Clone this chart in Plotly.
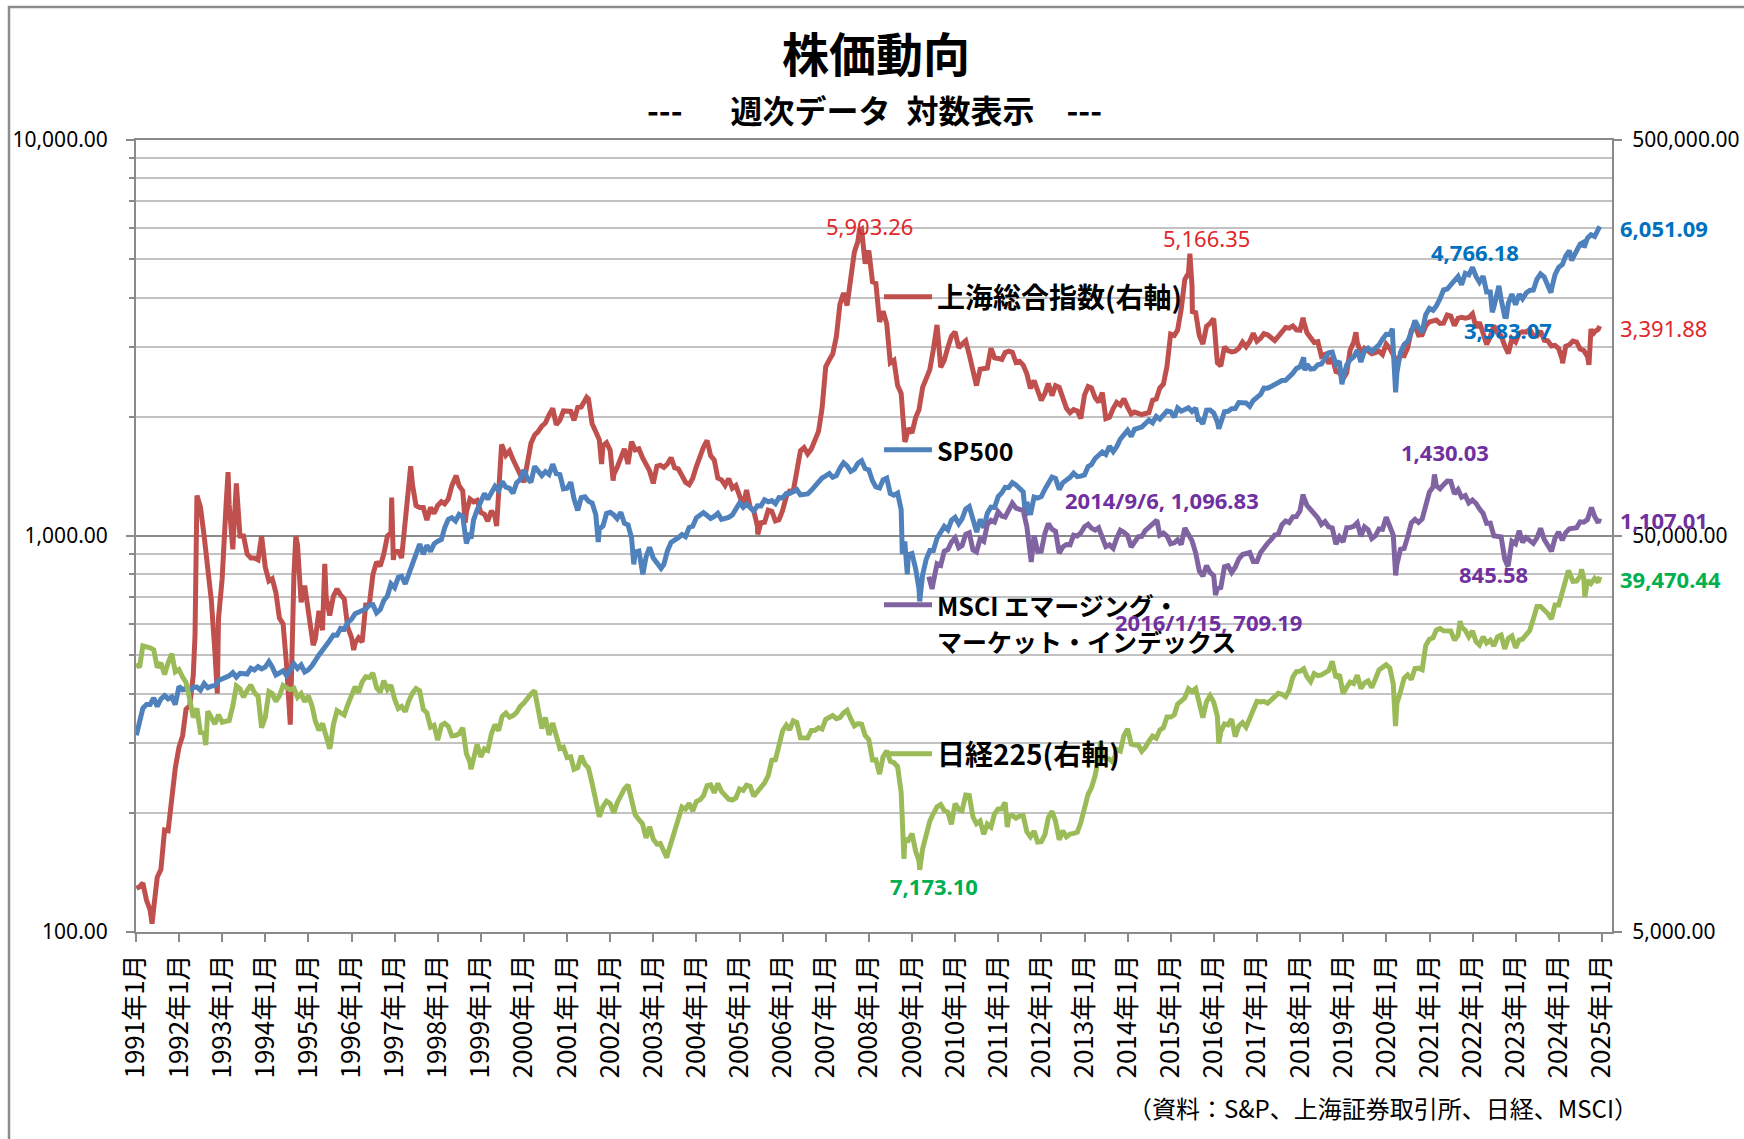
import numpy as np
import pandas as pd
import plotly.graph_objects as go

# ---------------- data ----------------
# Month-end values, first month given by *_START
SP500_START = "1991-01-01"
SP500_MONTHLY = [
    343.9, 367.1, 375.2, 375.3, 389.8, 371.2, 387.8, 395.4, 387.9, 392.5, 375.2, 417.1,
    408.8, 412.7, 403.7, 414.9, 415.4, 408.1, 424.2, 414.0, 417.8, 418.7, 431.4, 435.7,
    438.8, 443.4, 451.7, 440.2, 450.2, 450.5, 448.1, 463.6, 458.9, 467.8, 461.8, 466.5,
    481.6, 467.1, 445.8, 450.9, 456.5, 444.3, 458.3, 475.5, 462.7, 472.4, 453.7, 459.3,
    470.4, 487.4, 500.7, 514.7, 533.4, 544.8, 562.1, 561.9, 584.4, 581.5, 605.4, 615.9,
    636.0, 640.4, 645.5, 654.2, 669.1, 670.6, 639.9, 652.0, 687.3, 705.3, 757.0, 740.7,
    786.2, 790.8, 757.1, 801.3, 848.3, 885.1, 954.3, 899.5, 947.3, 914.6, 955.4, 970.4,
    980.3, 1049.3, 1101.8, 1111.8, 1090.8, 1133.8, 1120.7, 957.3, 1017.0, 1098.7, 1163.6, 1229.2,
    1279.6, 1238.3, 1286.4, 1335.2, 1301.8, 1372.7, 1328.7, 1320.4, 1282.7, 1362.9, 1388.9, 1469.3,
    1394.5, 1366.4, 1498.6, 1452.4, 1420.6, 1454.6, 1430.8, 1517.7, 1436.5, 1429.4, 1315.2, 1320.3,
    1366.0, 1239.9, 1160.3, 1249.5, 1255.8, 1224.4, 1211.2, 1133.6, 1040.9, 1059.8, 1139.5, 1148.1,
    1130.2, 1106.7, 1147.4, 1076.9, 1067.1, 989.8, 911.6, 916.1, 815.3, 885.8, 936.3, 879.8,
    855.7, 841.2, 848.2, 916.9, 963.6, 974.5, 990.3, 1008.0, 996.0, 1050.7, 1058.2, 1111.9,
    1131.1, 1144.9, 1126.2, 1107.3, 1120.7, 1140.8, 1101.7, 1104.2, 1114.6, 1130.2, 1173.8, 1211.9,
    1181.3, 1203.6, 1180.6, 1156.9, 1191.5, 1191.3, 1234.2, 1220.3, 1228.8, 1207.0, 1249.5, 1248.3,
    1280.1, 1280.7, 1294.8, 1310.6, 1270.1, 1270.2, 1276.7, 1303.8, 1335.9, 1377.9, 1400.6, 1418.3,
    1438.2, 1406.8, 1420.9, 1482.4, 1530.6, 1503.4, 1455.3, 1474.0, 1526.8, 1549.4, 1481.1, 1468.4,
    1378.6, 1330.6, 1322.7, 1385.6, 1400.4, 1280.0, 1267.4, 1282.8, 1166.4, 968.8, 896.2, 903.3,
    825.9, 735.1, 797.9, 872.8, 919.1, 919.3, 987.5, 1020.6, 1057.1, 1036.2, 1095.6, 1115.1,
    1073.9, 1104.5, 1169.4, 1186.7, 1089.4, 1030.7, 1101.6, 1049.3, 1141.2, 1183.3, 1180.6, 1257.6,
    1286.1, 1327.2, 1325.8, 1363.6, 1345.2, 1320.6, 1292.3, 1218.9, 1131.4, 1253.3, 1247.0, 1257.6,
    1312.4, 1365.7, 1408.5, 1397.9, 1310.3, 1362.2, 1379.3, 1406.6, 1440.7, 1412.2, 1416.2, 1426.2,
    1498.1, 1514.7, 1569.2, 1597.6, 1630.7, 1606.3, 1685.7, 1633.0, 1681.6, 1756.5, 1805.8, 1848.4,
    1782.6, 1859.5, 1872.3, 1884.0, 1923.6, 1960.2, 1930.7, 2003.4, 1972.3, 2018.1, 2067.6, 2058.9,
    1995.0, 2104.5, 2067.9, 2085.5, 2107.4, 2063.1, 2103.8, 1972.2, 1920.0, 2079.4, 2080.4, 2043.9,
    1940.2, 1932.2, 2059.7, 2065.3, 2097.0, 2098.9, 2173.6, 2171.0, 2168.3, 2126.2, 2198.8, 2238.8,
    2278.9, 2363.6, 2362.7, 2384.2, 2411.8, 2423.4, 2470.3, 2471.7, 2519.4, 2575.3, 2647.6, 2673.6,
    2823.8, 2713.8, 2640.9, 2648.1, 2705.3, 2718.4, 2816.3, 2901.5, 2914.0, 2711.7, 2760.2, 2506.9,
    2704.1, 2784.5, 2834.4, 2945.8, 2752.1, 2941.8, 2980.4, 2926.5, 2976.7, 3037.6, 3141.0, 3230.8,
    3225.5, 2954.2, 2584.6, 2912.4, 3044.3, 3100.3, 3271.1, 3500.3, 3363.0, 3270.0, 3621.6, 3756.1,
    3714.2, 3811.2, 3972.9, 4181.2, 4204.1, 4297.5, 4395.3, 4522.7, 4307.5, 4605.4, 4567.0, 4766.18,
    4515.6, 4373.9, 4530.4, 4131.9, 4132.2, 3785.4, 4130.3, 3955.0, 3585.6, 3872.0, 4080.1, 3839.5,
    4076.6, 3970.2, 4109.3, 4169.5, 4179.8, 4450.4, 4589.0, 4507.7, 4288.1, 4193.8, 4567.8, 4769.8,
    4845.7, 5096.3, 5254.4, 5035.7, 5277.5, 5460.5, 5522.3, 5648.4, 5762.5, 5705.5, 6032.4,
]
SP500_EXTRA_DATES = [
    "1991-01-04", "1998-10-09", "2001-09-21", "2002-07-19", "2002-10-04", "2003-03-07",
    "2008-10-10", "2008-11-21", "2009-03-06", "2010-07-02", "2011-08-19", "2011-10-07",
    "2015-08-21", "2016-02-12", "2018-02-09", "2018-12-21", "2020-02-21", "2020-03-20",
    "2022-06-17", "2022-08-12", "2022-10-14", "2023-10-27", "2024-04-19", "2024-08-02",
    "2024-12-13",
]
SP500_EXTRA_VALUES = [
    314.0, 984.0, 965.8, 847.8, 800.6, 828.9,
    899.2, 800.0, 683.4, 1022.6, 1123.5, 1155.5,
    1970.9, 1864.8, 2619.6, 2416.6, 3337.8, 2304.9,
    3674.8, 4280.2, 3583.07, 4117.4, 4967.2, 5346.6,
    6051.09,
]

NIKKEI_START = "1991-01-01"
NIKKEI_MONTHLY = [
    23293, 26409, 26292, 26111, 25790, 23291, 23900, 22336, 23916, 25222, 22687, 22984,
    22023, 21339, 19346, 17391, 18348, 15952, 15910, 18061, 17399, 16767, 17684, 16925,
    17024, 17098, 18591, 20919, 20552, 19590, 20380, 21027, 20106, 19703, 16408, 17417,
    20229, 19997, 19112, 19725, 20974, 20644, 20449, 20629, 19564, 19990, 19076, 19723,
    18650, 17054, 16140, 16807, 15437, 14517, 16678, 18117, 17913, 17655, 18744, 19868,
    20813, 20125, 21407, 22041, 21956, 22531, 20693, 20167, 21556, 20467, 21020, 19361,
    18330, 18557, 18003, 19151, 20069, 20605, 20331, 18229, 17888, 16459, 16633, 15259,
    16628, 16832, 16527, 15641, 15671, 15830, 16379, 14108, 13406, 13565, 14884, 13842,
    14499, 14368, 15837, 16702, 16112, 17530, 17862, 17437, 17605, 17942, 18558, 18934,
    19540, 19960, 20337, 17974, 16332, 17411, 15727, 16861, 15747, 14539, 14649, 13786,
    13844, 12883, 12999, 13934, 13262, 12969, 11860, 10713, 9775, 10366, 10697, 10543,
    9998, 10588, 11025, 11493, 11764, 10622, 9878, 9619, 9383, 8640, 9216, 8579,
    8340, 8363, 7973, 7831, 8425, 9083, 9563, 10344, 10219, 10560, 10101, 10677,
    10784, 11042, 11715, 11762, 11236, 11859, 11326, 11082, 10824, 10771, 10899, 11489,
    11388, 11741, 11669, 11009, 11277, 11584, 11900, 12414, 13574, 13607, 14872, 16111,
    16650, 16205, 17060, 16906, 15467, 15505, 15457, 16141, 16128, 16399, 16274, 17226,
    17383, 17604, 17288, 17400, 17876, 18138, 17249, 16569, 16786, 16738, 15681, 15308,
    13593, 13604, 12526, 13850, 14339, 13481, 13377, 13073, 11260, 8577, 8512, 8860,
    7994, 7568, 8110, 8828, 9523, 9958, 10357, 10493, 10133, 10035, 9346, 10546,
    10198, 10126, 11090, 11057, 9769, 9383, 9537, 8824, 9369, 9202, 9937, 10229,
    10238, 10624, 9755, 9850, 9694, 9816, 9833, 8955, 8700, 8988, 8434, 8455,
    8803, 9723, 10084, 9521, 8543, 9007, 8695, 8840, 8870, 8928, 9446, 10395,
    11139, 11559, 12398, 13861, 13775, 13677, 13668, 13389, 14456, 14328, 15662, 16291,
    14915, 14841, 14828, 14304, 14632, 15162, 15621, 15425, 16174, 16414, 17460, 17451,
    17674, 18798, 19207, 19520, 20563, 20236, 20585, 18890, 17388, 19083, 19747, 19034,
    17518, 16027, 16759, 16666, 17235, 15576, 16569, 16887, 16450, 17425, 18308, 19114,
    19041, 19119, 18909, 19197, 19651, 20033, 19925, 19646, 20356, 22012, 22724, 22765,
    23098, 22068, 21454, 22468, 22202, 22305, 22554, 22865, 24120, 21920, 22351, 20015,
    20773, 21385, 21206, 22259, 20601, 21276, 21522, 20704, 21756, 22927, 23294, 23657,
    23205, 21143, 18917, 20194, 21878, 22288, 21710, 23140, 23185, 22977, 26434, 27444,
    27663, 28966, 29179, 28813, 28860, 28792, 27284, 28090, 29453, 28893, 27822, 28792,
    27002, 26527, 27821, 26848, 27280, 26393, 27802, 28092, 25937, 27587, 27969, 26095,
    27327, 27446, 28041, 28856, 30888, 33189, 33172, 32619, 31858, 30859, 33487, 33464,
    36287, 39166, 40369, 38406, 38488, 39583, 39102, 38648, 37920, 39081, 38208,
]
NIKKEI_EXTRA_DATES = [
    "1991-01-04", "1992-08-14", "1995-07-07", "1998-10-09", "2003-04-25", "2008-10-24",
    "2009-03-06", "2011-03-18", "2013-05-17", "2016-02-12", "2018-12-21", "2020-03-19",
    "2021-09-17", "2024-03-22", "2024-07-12", "2024-08-09", "2024-12-13",
]
NIKKEI_EXTRA_VALUES = [
    23827, 14822, 14800, 12880, 7700, 7649,
    7173.10, 9206, 15138, 14953, 20166, 16553,
    30500, 40888, 41190, 35025, 39470.44,
]

SHANGHAI_START = "1991-01-01"
SHANGHAI_MONTHLY = [
    130.0, 133.0, 120.2, 113.9, 114.8, 137.6, 143.8, 180.9, 180.2, 218.6, 259.6, 292.8,
    313.2, 365.4, 372.6, 444.2, 1266.0, 1183.0, 1001.0, 820.0, 689.0, 507.0, 620.0, 780.4,
    1170.0, 1200.0, 925.0, 1358.0, 1000.0, 1000.0, 900.0, 880.0, 880.0, 870.0, 1000.0, 834.0,
    770.0, 780.0, 720.0, 620.0, 600.0, 470.0, 334.0, 800.0, 950.0, 680.0, 750.0, 648.0,
    563.0, 549.0, 647.0, 578.0, 701.0, 630.0, 704.0, 735.0, 710.0, 694.0, 587.0, 555.0,
    537.0, 553.0, 540.0, 670.0, 672.0, 800.0, 860.0, 840.0, 900.0, 1000.0, 1020.0, 917.0,
    914.0, 880.0, 1100.0, 1292.0, 1350.0, 1193.0, 1180.0, 1180.0, 1097.0, 1180.0, 1140.0, 1194.0,
    1220.0, 1205.0, 1240.0, 1340.0, 1410.0, 1340.0, 1300.0, 1150.0, 1240.0, 1220.0, 1230.0, 1147.0,
    1134.0, 1090.0, 1158.0, 1120.0, 1280.0, 1689.0, 1600.0, 1640.0, 1560.0, 1490.0, 1430.0, 1367.0,
    1535.0, 1714.0, 1800.0, 1836.0, 1894.0, 1928.0, 2023.0, 2100.0, 1910.0, 1961.0, 2070.0, 2073.0,
    2065.0, 1960.0, 2112.0, 2119.0, 2214.0, 2218.0, 1920.0, 1834.0, 1750.0, 1690.0, 1720.0, 1646.0,
    1430.0, 1490.0, 1580.0, 1660.0, 1520.0, 1730.0, 1650.0, 1660.0, 1580.0, 1510.0, 1460.0, 1358.0,
    1500.0, 1510.0, 1490.0, 1520.0, 1577.0, 1487.0, 1477.0, 1421.0, 1367.0, 1348.0, 1397.0, 1497.0,
    1590.0, 1675.0, 1742.0, 1595.0, 1555.0, 1400.0, 1386.0, 1342.0, 1396.0, 1320.0, 1341.0, 1266.0,
    1191.0, 1306.0, 1181.0, 1159.0, 1060.0, 1080.0, 1083.0, 1162.0, 1155.0, 1092.0, 1099.0, 1161.0,
    1258.0, 1299.0, 1298.0, 1440.0, 1641.0, 1672.0, 1612.0, 1658.0, 1752.0, 1837.0, 2099.0, 2675.0,
    2786.0, 2881.0, 3184.0, 3841.0, 4110.0, 3821.0, 4471.0, 5219.0, 5552.0, 5955.0, 4871.0, 5262.0,
    4383.0, 4348.0, 3473.0, 3693.0, 3433.0, 2736.0, 2776.0, 2397.0, 2293.0, 1729.0, 1871.0, 1821.0,
    1991.0, 2082.0, 2373.0, 2477.0, 2632.0, 2959.0, 3412.0, 2667.0, 2779.0, 2996.0, 3195.0, 3277.0,
    2989.0, 3051.0, 3110.0, 2870.0, 2592.0, 2398.0, 2638.0, 2639.0, 2656.0, 2979.0, 2820.0, 2808.0,
    2791.0, 2905.0, 2928.0, 2911.0, 2743.0, 2762.0, 2701.0, 2568.0, 2359.0, 2468.0, 2333.0, 2199.0,
    2292.0, 2428.0, 2262.0, 2396.0, 2373.0, 2225.0, 2103.0, 2048.0, 2086.0, 2069.0, 1980.0, 2269.0,
    2385.0, 2366.0, 2237.0, 2178.0, 2301.0, 1979.0, 1994.0, 2098.0, 2175.0, 2142.0, 2220.0, 2116.0,
    2033.0, 2056.0, 2033.0, 2026.0, 2039.0, 2048.0, 2202.0, 2217.0, 2364.0, 2420.0, 2683.0, 3235.0,
    3210.0, 3310.0, 3748.0, 4442.0, 4612.0, 4277.0, 3664.0, 3206.0, 3053.0, 3383.0, 3445.0, 3539.0,
    2738.0, 2688.0, 3004.0, 2938.0, 2917.0, 2930.0, 2979.0, 3085.0, 3005.0, 3100.0, 3250.0, 3104.0,
    3159.0, 3242.0, 3223.0, 3155.0, 3117.0, 3192.0, 3273.0, 3361.0, 3349.0, 3393.0, 3317.0, 3307.0,
    3481.0, 3259.0, 3169.0, 3082.0, 3095.0, 2847.0, 2876.0, 2725.0, 2821.0, 2603.0, 2588.0, 2494.0,
    2585.0, 2941.0, 3091.0, 3078.0, 2899.0, 2979.0, 2932.0, 2886.0, 2905.0, 2929.0, 2872.0, 3050.0,
    2977.0, 2880.0, 2750.0, 2860.0, 2852.0, 2985.0, 3310.0, 3396.0, 3218.0, 3225.0, 3392.0, 3473.0,
    3483.0, 3509.0, 3442.0, 3447.0, 3615.0, 3591.0, 3397.0, 3544.0, 3568.0, 3547.0, 3564.0, 3640.0,
    3361.0, 3462.0, 3252.0, 3047.0, 3186.0, 3399.0, 3253.0, 3202.0, 3024.0, 2893.0, 3151.0, 3089.0,
    3255.0, 3280.0, 3273.0, 3323.0, 3205.0, 3202.0, 3291.0, 3120.0, 3110.0, 3019.0, 3030.0, 2975.0,
    2789.0, 3015.0, 3041.0, 3105.0, 3087.0, 2967.0, 2939.0, 2842.0, 3336.0, 3279.0, 3326.0,
]
SHANGHAI_EXTRA_DATES = [
    "1991-01-04", "1991-05-17", "1992-05-15", "1992-11-20", "1993-02-19", "1994-09-16",
    "1995-02-10", "1995-05-19", "1996-01-19", "1996-12-06", "1996-12-20", "1997-05-16",
    "1998-06-05", "1998-08-21", "1999-05-14", "1999-06-25", "2001-06-15", "2001-10-19",
    "2002-01-25", "2005-06-03", "2007-10-12", "2008-11-07", "2015-06-12", "2015-07-03",
    "2018-01-26", "2019-04-19", "2024-02-02", "2024-09-13", "2024-10-11", "2024-12-13",
]
SHANGHAI_EXTRA_VALUES = [
    129.0, 105.0, 560.0, 400.0, 1450.0, 1000.0,
    530.0, 850.0, 515.0, 1250.0, 870.0, 1500.0,
    1420.0, 1080.0, 1060.0, 1700.0, 2240.0, 1520.0,
    1380.0, 1010.0, 5903.26, 1748.0, 5166.35, 3687.0,
    3558.0, 3271.0, 2730.0, 2704.0, 3217.0, 3391.88,
]

MSCI_START = "2009-05-01"
MSCI_MONTHLY = [
    776, 766, 851, 843, 915, 924, 965, 989,
    934, 946, 1010, 1019, 922, 911, 983, 969, 1069, 1095, 1084, 1151,
    1123, 1117, 1171, 1210, 1176, 1165, 1159, 1056, 880, 1003, 915, 916,
    1017, 1074, 1041, 1028, 905, 938, 952, 950, 1005, 1000, 1018, 1055,
    1070, 1047, 1035, 1049, 1001, 940, 950, 931, 988, 1034, 1022, 1003,
    938, 968, 995, 998, 1033, 1051, 1071, 1094, 1005, 1017, 1000, 956,
    961, 978, 952, 1048, 1008, 973, 907, 816, 792, 842, 809, 794,
    737, 741, 836, 841, 809, 834, 876, 898, 906, 908, 862, 862,
    909, 936, 958, 979, 1006, 1011, 1068, 1091, 1081, 1118, 1120, 1158,
    1255, 1195, 1170, 1142, 1111, 1069, 1087, 1055, 1048, 954, 994, 966,
    1050, 1051, 1058, 1080, 998, 1055, 1037, 985, 1001, 1042, 1040, 1115,
    1062, 1005, 849, 925, 930, 995, 1079, 1101, 1082, 1104, 1205, 1291,
    1330, 1339, 1316, 1348, 1376, 1374, 1278, 1310, 1253, 1265, 1212, 1232,
    1208, 1171, 1141, 1076, 1078, 1001, 994, 994, 875, 848, 970, 956,
    1031, 964, 990, 975, 958, 989, 1046, 980, 952, 915, 987, 1024,
    975, 1020, 1043, 1046, 1049, 1086, 1084, 1100, 1171, 1120, 1080,
]
MSCI_EXTRA_DATES = [
    "2009-05-22", "2009-06-19", "2011-10-07", "2014-09-06", "2016-01-15", "2018-01-26",
    "2020-03-20", "2021-02-12", "2022-10-21", "2024-10-04", "2024-12-13",
]
MSCI_EXTRA_VALUES = [
    790, 735, 860, 1096.83, 709.19, 1273,
    795, 1430.03, 845.58, 1180, 1107.01,
]

SERIES_NAMES = ["上海総合指数(右軸)", "SP500", "MSCI エマージング・<br>マーケット・インデックス", "日経225(右軸)"]
X_TICK_YEARS = list(range(1991, 2026))
X_TICK_VALS = [f"{y}-01-01" for y in X_TICK_YEARS]
X_TICK_TEXT = [f"{y}年1月" for y in X_TICK_YEARS]
LEFT_TICKS = [100, 1000, 10000]
LEFT_MINOR = [200, 300, 400, 500, 600, 700, 800, 900, 2000, 3000, 4000, 5000, 6000, 7000, 8000, 9000]
RIGHT_TICKS = [5000, 50000, 500000]

TITLE = "株価動向"
SUBTITLE = "---\u3000\u2002週次データ\u2002対数表示\u3000---"
SOURCE = "（資料：S&P、上海証券取引所、日経、MSCI）"


def build(start, monthly, extra_dates, extra_values):
    d = list(pd.date_range(start=start, periods=len(monthly), freq="MS") + pd.offsets.MonthEnd(0))
    d += list(pd.to_datetime(extra_dates))
    v = list(monthly) + list(extra_values)
    s = pd.Series(v, index=pd.DatetimeIndex(d)).sort_index()
    return s[~s.index.duplicated(keep="last")]


sh = build(SHANGHAI_START, SHANGHAI_MONTHLY, SHANGHAI_EXTRA_DATES, SHANGHAI_EXTRA_VALUES)
sp = build(SP500_START, SP500_MONTHLY, SP500_EXTRA_DATES, SP500_EXTRA_VALUES)
ms = build(MSCI_START, MSCI_MONTHLY, MSCI_EXTRA_DATES, MSCI_EXTRA_VALUES)
nk = build(NIKKEI_START, NIKKEI_MONTHLY, NIKKEI_EXTRA_DATES, NIKKEI_EXTRA_VALUES)

# ---------------- styling ----------------
JP = "Noto Sans CJK JP"
LAT = "Noto Sans, Noto Sans CJK JP"
AXIS_GRAY = "#8A8A8A"
RED_LINE, BLUE_LINE, PURPLE_LINE, GREEN_LINE = "#C0504D", "#4F81BD", "#8064A2", "#9BBB59"
RED_TXT, BLUE_TXT, PURPLE_TXT, GREEN_TXT = "#E0282C", "#0070C0", "#7030A0", "#00B050"
LW = 5

W, H = 1744, 1139
ML, MR, MT, MB = 136, 132, 140, 207
PW, PH = W - ML - MR, H - MT - MB


def px2paper_x(px):
    return (px - ML) / PW


def px2paper_y(py):
    return (H - MB - py) / PH


def small(name, size):
    return "<br>".join(f"<span style='font-size:{size}px'>{part}</span>" for part in name.split("<br>"))


fig = go.Figure()
fig.add_trace(go.Scatter(x=sh.index, y=sh.values, name=SERIES_NAMES[0], mode="lines",
                         line=dict(color=RED_LINE, width=LW), legend="legend"))
fig.add_trace(go.Scatter(x=sp.index, y=sp.values, name=small(SERIES_NAMES[1], 25), mode="lines",
                         line=dict(color=BLUE_LINE, width=LW), legend="legend2"))
fig.add_trace(go.Scatter(x=ms.index, y=ms.values, name=small(SERIES_NAMES[2], 25), mode="lines",
                         line=dict(color=PURPLE_LINE, width=LW), legend="legend3"))
fig.add_trace(go.Scatter(x=nk.index, y=nk.values, name=SERIES_NAMES[3], mode="lines",
                         line=dict(color=GREEN_LINE, width=LW), yaxis="y2", legend="legend4"))


def leg(px_left, py, yanchor="middle", valign="middle"):
    return dict(x=px2paper_x(px_left), y=px2paper_y(py), xanchor="left", yanchor=yanchor,
                bgcolor="rgba(0,0,0,0)",
                font=dict(family=JP, size=28, color="black", weight="bold"),
                itemwidth=48, valign=valign,
                borderwidth=0, itemclick=False, itemdoubleclick=False)


fig.update_layout(
    width=W, height=H,
    margin=dict(l=ML, r=MR, t=MT, b=MB, autoexpand=False),
    paper_bgcolor="white", plot_bgcolor="white",
    showlegend=True,
    legend=leg(879, 297),
    legend2=leg(879, 450),
    legend3=leg(879, 580, yanchor="top", valign="top"),
    legend4=leg(879, 754),
    title=dict(text=TITLE, x=876 / W, xref="container", xanchor="center",
               y=1 - 56 / H, yref="container", yanchor="middle",
               font=dict(family=JP, size=47, color="black", weight="bold")),
    xaxis=dict(type="date", range=["1991-01-01", "2025-03-27"], automargin=False,
               tickmode="array", tickvals=X_TICK_VALS, ticktext=X_TICK_TEXT, tickangle=-90,
               ticks="outside", ticklen=8, tickwidth=2, tickcolor=AXIS_GRAY,
               showline=True, linecolor=AXIS_GRAY, linewidth=2, mirror=True,
               showgrid=False, zeroline=False, ticklabelstandoff=2,
               tickfont=dict(family=JP, size=26, color="black")),
    yaxis=dict(type="log", range=[2, 4], tickmode="array", tickvals=LEFT_TICKS, automargin=False,
               tickformat=",.2f", showgrid=True, gridcolor=AXIS_GRAY, gridwidth=2,
               ticks="outside", ticklen=8, tickwidth=2, tickcolor=AXIS_GRAY,
               showline=True, linecolor=AXIS_GRAY, linewidth=2, zeroline=False,
               minor=dict(tickmode="array", tickvals=LEFT_MINOR, showgrid=True,
                          gridcolor="#C2C2C2", gridwidth=1.6, ticks="outside",
                          ticklen=5, tickwidth=2, tickcolor=AXIS_GRAY),
               tickfont=dict(family=LAT, size=21, color="black"), ticklabelstandoff=14),
    yaxis2=dict(type="log", range=[np.log10(5000), np.log10(500000)], overlaying="y",
                side="right", tickmode="array", tickvals=RIGHT_TICKS, tickformat=",.2f",
                automargin=False,
                showgrid=False, ticks="outside", ticklen=8, tickwidth=2, tickcolor=AXIS_GRAY,
                showline=True, linecolor=AXIS_GRAY, linewidth=2, zeroline=False,
                tickfont=dict(family=LAT, size=21, color="black"), ticklabelstandoff=6),
)

# outer chart frame
fig.add_shape(type="rect", xref="paper", yref="paper",
              x0=px2paper_x(9), x1=px2paper_x(1800), y0=px2paper_y(1200), y1=px2paper_y(7),
              line=dict(color="#8C8C8C", width=2.5), fillcolor="rgba(0,0,0,0)", layer="below")

# subtitle & source
fig.add_annotation(text=SUBTITLE, xref="paper", yref="paper", x=px2paper_x(874), y=px2paper_y(109),
                   xanchor="center", yanchor="middle", showarrow=False,
                   font=dict(family=JP, size=32, color="black", weight="bold"))
fig.add_annotation(text=SOURCE, xref="paper", yref="paper", x=px2paper_x(1640), y=px2paper_y(1107),
                   xanchor="right", yanchor="middle", showarrow=False,
                   font=dict(family=JP, size=24, color="black"))


# data labels, positioned at the data point they describe
def data_label(series, date, yref, color, bold, xshift, yshift, xanchor="center", with_date=False):
    ts = pd.Timestamp(date)
    v = float(series.loc[ts])
    txt = f"{v:,.2f}"
    if with_date:
        txt = f"{ts.year}/{ts.month}/{ts.day}, " + txt
    fig.add_annotation(x=ts, y=np.log10(v), xref="x", yref=yref, text=txt, showarrow=False,
                       xanchor=xanchor, yanchor="middle", xshift=xshift, yshift=yshift,
                       font=dict(family=LAT, size=22, color=color,
                                 weight="bold" if bold else "normal"))


data_label(sh, "2007-10-12", "y", RED_TXT, False, 10, 5)
data_label(sh, "2015-06-12", "y", RED_TXT, False, 17, 16)
data_label(sh, "2024-12-13", "y", RED_TXT, False, 18, -2, xanchor="left")
data_label(sp, "2021-12-31", "y", BLUE_TXT, True, 3, 15)
data_label(sp, "2022-10-14", "y", BLUE_TXT, True, 2, -13)
data_label(sp, "2024-12-13", "y", BLUE_TXT, True, 18, -2, xanchor="left")
data_label(ms, "2021-02-12", "y", PURPLE_TXT, True, 11, 22)
data_label(ms, "2014-09-06", "y", PURPLE_TXT, True, 5, 20, with_date=True)
data_label(ms, "2016-01-15", "y", PURPLE_TXT, True, -7, -27, with_date=True)
data_label(ms, "2022-10-21", "y", PURPLE_TXT, True, -14, -9)
data_label(ms, "2024-12-13", "y", PURPLE_TXT, True, 18, -1, xanchor="left")
data_label(nk, "2009-03-06", "y2", GREEN_TXT, True, 14, -16)
data_label(nk, "2024-12-13", "y2", GREEN_TXT, True, 18, -2, xanchor="left")

fig.write_html("out.html", config={"displayModeBar": False},
               post_script="document.body.style.margin='0';document.body.style.overflow='hidden';")
